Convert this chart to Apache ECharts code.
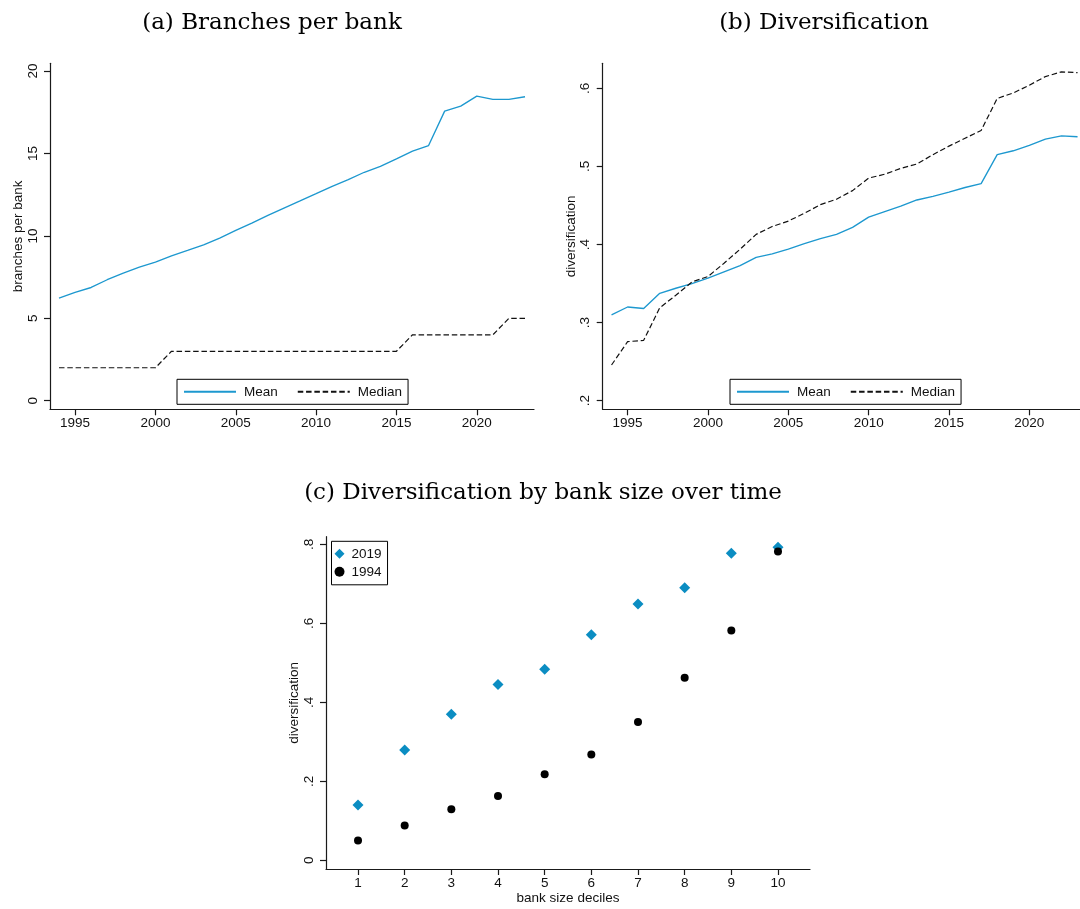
<!DOCTYPE html>
<html><head><meta charset="utf-8">
<script src="https://cdn.jsdelivr.net/npm/echarts@6/dist/echarts.min.js"></script>
<style>html,body{margin:0;padding:0;background:#fff}#c{width:1080px;height:909px}</style>
</head><body><div id="c"></div><script>
const years = [1994,1995,1996,1997,1998,1999,2000,2001,2002,2003,2004,2005,2006,2007,2008,2009,2010,2011,2012,2013,2014,2015,2016,2017,2018,2019,2020,2021,2022,2023];
const branchesMean = [6.22,6.57,6.87,7.34,7.74,8.10,8.41,8.79,9.12,9.46,9.87,10.33,10.78,11.25,11.69,12.12,12.56,13.01,13.41,13.86,14.22,14.67,15.14,15.48,17.57,17.87,18.48,18.28,18.28,18.44];
const branchesMedian = [2,2,2,2,2,2,2,3,3,3,3,3,3,3,3,3,3,3,3,3,3,3,4,4,4,4,4,4,5,5];
const divMean = [0.310,0.320,0.318,0.3375,0.344,0.350,0.357,0.365,0.373,0.3836,0.388,0.394,0.401,0.4075,0.413,0.422,0.435,0.442,0.449,0.457,0.4617,0.467,0.473,0.478,0.515,0.520,0.527,0.535,0.539,0.538];
const divMedian = [0.2457,0.2756,0.2773,0.319,0.335,0.352,0.359,0.376,0.394,0.413,0.423,0.430,0.440,0.451,0.458,0.469,0.485,0.490,0.4975,0.503,0.515,0.526,0.536,0.546,0.587,0.594,0.604,0.615,0.621,0.620];
const deciles = [1,2,3,4,5,6,7,8,9,10];
const div2019 = [0.140,0.279,0.370,0.445,0.4835,0.571,0.649,0.690,0.777,0.7925];
const div1994 = [0.050,0.088,0.129,0.163,0.218,0.268,0.350,0.462,0.582,0.7815];
const yearTicks = [1995,2000,2005,2010,2015,2020];
const branchTicks = [0,5,10,15,20];
const divTicks = [0.2,0.3,0.4,0.5,0.6];
const decileTicks = [1,2,3,4,5,6,7,8,9,10];
const decileDivTicks = [0,0.2,0.4,0.6,0.8];

const AX = '#1a1a1a';
const LBL = {fontSize:13.5, fontFamily:'"Liberation Sans", Arial, Helvetica, sans-serif', color:'#111'};
const blueLine = '#1d98cf';
const blueMark = '#0b8dc2';
const fmtDec = v => { if (v === 0) return '0'; return String(+v.toFixed(2)).replace(/^0/, ''); };
const fmtInt = v => String(Math.round(v));

function xAx(gi, min, max, ticks, name) {
  return {
    type:'value', gridIndex:gi, min:min, max:max,
    name: name || '', nameLocation:'middle', nameGap:22, nameTextStyle:LBL,
    axisLine:{show:true, onZero:false, lineStyle:{color:AX, width:1.2}},
    axisTick:{show:true, length:6, customValues:ticks, lineStyle:{color:AX, width:1.2}},
    axisLabel:Object.assign({customValues:ticks, margin:7, formatter:fmtInt}, LBL),
    splitLine:{show:false}
  };
}
function yAx(gi, min, max, ticks, name, fmt) {
  return {
    type:'value', gridIndex:gi, min:min, max:max,
    name:name, nameLocation:'middle', nameGap:24, nameRotate:90, nameTextStyle:LBL,
    axisLine:{show:true, onZero:false, lineStyle:{color:AX, width:1.2}},
    axisTick:{show:true, length:6, customValues:ticks, lineStyle:{color:AX, width:1.2}},
    axisLabel:Object.assign({customValues:ticks, margin:10, rotate:90, formatter:fmt}, LBL),
    splitLine:{show:false}
  };
}
const legendBase = {
  orient:'horizontal', itemWidth:52, itemHeight:14, itemGap:19,
  padding:[5.5,6,5.5,6], borderColor:'#000', borderWidth:1, borderRadius:0,
  backgroundColor:'#fff', selectedMode:false,
  itemStyle:{opacity:0, borderWidth:0},
  textStyle:Object.assign({padding:[0,0,0,3]}, LBL)
};

const chart = echarts.init(document.getElementById('c'), null, {renderer:'canvas'});
chart.setOption({
  animation:false,
  backgroundColor:'#fff',
  grid:[
    {left:50, top:63.3, width:484, height:346, outerBoundsMode:'none', containLabel:false},
    {left:602.7, top:63.3, width:484, height:346, outerBoundsMode:'none', containLabel:false},
    {left:326, top:536.7, width:484, height:332.3, outerBoundsMode:'none', containLabel:false}
  ],
  xAxis:[
    xAx(0, 1993.44, 2023.56, yearTicks),
    xAx(1, 1993.45, 2023.57, yearTicks),
    xAx(2, 0.314, 10.686, decileTicks, 'bank size deciles')
  ],
  yAxis:[
    yAx(0, -0.52, 20.47, branchTicks, 'branches per bank', fmtInt),
    yAx(1, 0.189, 0.632, divTicks, 'diversification', fmtDec),
    yAx(2, -0.022, 0.8192, decileDivTicks, 'diversification', fmtDec)
  ],
  legend:[
    Object.assign({}, legendBase, {left:177, top:379.3, data:['Mean','Median']}),
    Object.assign({}, legendBase, {left:730, top:379.3, data:['Mean','Median']}),
    {orient:'vertical', left:331.5, top:541.3, data:['2019','1994'],
     itemWidth:10, itemHeight:10, itemGap:4, padding:[5.5,6,6,3],
     borderColor:'#000', borderWidth:1, backgroundColor:'#fff', selectedMode:false,
     textStyle:Object.assign({padding:[0,0,0,2]}, LBL)}
  ],
  graphic:[
    {type:'text', x:272, y:23, style:{text:'(a) Branches per bank', fontSize:23, fontFamily:'DejaVu Serif', align:'center', verticalAlign:'middle', fill:'#000'}},
    {type:'text', x:824, y:23, style:{text:'(b) Diversification', fontSize:23, fontFamily:'DejaVu Serif', align:'center', verticalAlign:'middle', fill:'#000'}},
    {type:'text', x:543, y:493, style:{text:'(c) Diversification by bank size over time', fontSize:23, fontFamily:'DejaVu Serif', align:'center', verticalAlign:'middle', fill:'#000'}}
  ],
  series:[
    {type:'line', name:'Mean', xAxisIndex:0, yAxisIndex:0, symbol:'none',
     data:years.map((y,i)=>[y, branchesMean[i]]),
     lineStyle:{color:blueLine, width:1.35}, itemStyle:{color:blueLine}},
    {type:'line', name:'Median', xAxisIndex:0, yAxisIndex:0, symbol:'none',
     data:years.map((y,i)=>[y, branchesMedian[i]]),
     lineStyle:{color:'#111', width:1.2, type:[5.5,2.8]}, itemStyle:{color:'#111'}},
    {type:'line', name:'Mean', xAxisIndex:1, yAxisIndex:1, symbol:'none',
     data:years.map((y,i)=>[y, divMean[i]]),
     lineStyle:{color:blueLine, width:1.35}, itemStyle:{color:blueLine}},
    {type:'line', name:'Median', xAxisIndex:1, yAxisIndex:1, symbol:'none',
     data:years.map((y,i)=>[y, divMedian[i]]),
     lineStyle:{color:'#111', width:1.2, type:[5.5,2.8]}, itemStyle:{color:'#111'}},
    {type:'scatter', name:'2019', xAxisIndex:2, yAxisIndex:2, symbol:'diamond', symbolSize:[11,11],
     data:deciles.map((d,i)=>[d, div2019[i]]), itemStyle:{color:blueMark, opacity:1}},
    {type:'scatter', name:'1994', xAxisIndex:2, yAxisIndex:2, symbol:'circle', symbolSize:8,
     data:deciles.map((d,i)=>[d, div1994[i]]), itemStyle:{color:'#000', opacity:1}}
  ]
});
</script></body></html>
